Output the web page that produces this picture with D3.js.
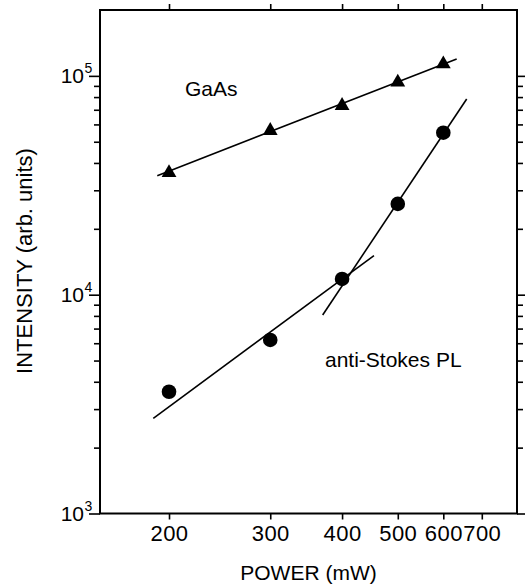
<!DOCTYPE html>
<html>
<head>
<meta charset="utf-8">
<script src="https://cdn.jsdelivr.net/npm/d3@7/dist/d3.min.js"></script>
<style>
  html, body { margin: 0; padding: 0; background: #fff; }
  svg { display: block; }
  text { font-family: "Liberation Sans", Arial, sans-serif; fill: #000; }
</style>
</head>
<body>
<svg id="chart" width="525" height="588"></svg>
<script>
// Excitation power (mW) and measured intensities
const power = [200, 300, 400, 500, 600];
const gaasIntensity = [36100, 56200, 73100, 93500, 113300];
const antiStokesIntensity = [3600, 6210, 11800, 26000, 55000];

// Power-law fit segments: [power, intensity] end points
const gaasFit = [[190.8, 34990], [633, 119500]];
const antiStokesFitLow = [[187.8, 2723], [454.5, 15080]];
const antiStokesFitHigh = [[370.1, 8075], [658.9, 78430]];

// Axis ticks
const xTicks = [200, 300, 400, 500, 600, 700];
const yMajorTicks = [1e3, 1e4, 1e5];
const yMinorTicks = [2e3, 3e3, 4e3, 5e3, 6e3, 7e3, 8e3, 9e3,
                     2e4, 3e4, 4e4, 5e4, 6e4, 7e4, 8e4, 9e4];
const yTickExponents = ["3", "4", "5"];

const svg = d3.select("#chart");
const plotLeft = 100, plotRight = 517, plotTop = 10, plotBottom = 513.5;

const x = d3.scaleLog().domain([151.7, 806]).range([plotLeft, plotRight]);
const y = d3.scaleLog().domain([1000, 200000]).range([plotBottom, plotTop]);

function styleAxis(g) {
  g.select(".domain").remove();
  g.selectAll(".tick line").attr("stroke", "#000").attr("stroke-width", 1.6);
}

// Bottom axis with labels
svg.append("g")
  .attr("transform", `translate(0,${plotBottom})`)
  .call(d3.axisBottom(x).tickValues(xTicks).tickSize(6).tickPadding(6)
        .tickFormat(d3.format("d")))
  .call(styleAxis)
  .call(g => g.selectAll(".tick text")
    .attr("font-family", null).attr("font-size", null)
    .style("font-size", "22px").style("letter-spacing", "0.4px")
    .attr("fill", "#000"));

// Top axis, ticks only
svg.append("g")
  .attr("transform", `translate(0,${plotTop})`)
  .call(d3.axisTop(x).tickValues(xTicks).tickSize(6).tickFormat(""))
  .call(styleAxis);

// Left axis: major and minor ticks
svg.append("g")
  .attr("transform", `translate(${plotLeft},0)`)
  .call(d3.axisLeft(y).tickValues(yMajorTicks).tickSize(11).tickFormat(""))
  .call(styleAxis);
svg.append("g")
  .attr("transform", `translate(${plotLeft},0)`)
  .call(d3.axisLeft(y).tickValues(yMinorTicks).tickSize(6).tickFormat(""))
  .call(styleAxis);

// Right axis: major and minor ticks
svg.append("g")
  .attr("transform", `translate(${plotRight},0)`)
  .call(d3.axisRight(y).tickValues(yMajorTicks).tickSize(8).tickFormat(""))
  .call(styleAxis);
svg.append("g")
  .attr("transform", `translate(${plotRight},0)`)
  .call(d3.axisRight(y).tickValues(yMinorTicks).tickSize(6).tickFormat(""))
  .call(styleAxis);

// Decade labels as 10 with superscript exponent
const yLabels = svg.append("g");
yMajorTicks.forEach((v, i) => {
  yLabels.append("text")
    .attr("x", 84).attr("y", y(v) + 7)
    .attr("text-anchor", "end")
    .style("font-size", "21px")
    .text("10");
  yLabels.append("text")
    .attr("x", 84.5).attr("y", y(v) - 3)
    .style("font-size", "14px")
    .text(yTickExponents[i]);
});

// Plot frame
svg.append("rect")
  .attr("x", plotLeft).attr("y", plotTop)
  .attr("width", plotRight - plotLeft).attr("height", plotBottom - plotTop)
  .attr("fill", "none").attr("stroke", "#000").attr("stroke-width", 2);

// Fit lines
const line = d3.line().x(d => x(d[0])).y(d => y(d[1]));
[gaasFit, antiStokesFitLow, antiStokesFitHigh].forEach(seg => {
  svg.append("path")
    .attr("d", line(seg))
    .attr("fill", "none").attr("stroke", "#000").attr("stroke-width", 1.6);
});

// GaAs points (triangles)
svg.append("g").selectAll("path")
  .data(power.map((p, i) => [p, gaasIntensity[i]]))
  .join("path")
  .attr("transform", d => `translate(${x(d[0])},${y(d[1])})`)
  .attr("d", d3.symbol().type(d3.symbolTriangle).size(95))
  .attr("fill", "#000");

// Anti-Stokes PL points (circles)
svg.append("g").selectAll("circle")
  .data(power.map((p, i) => [p, antiStokesIntensity[i]]))
  .join("circle")
  .attr("cx", d => x(d[0])).attr("cy", d => y(d[1]))
  .attr("r", 7.3)
  .attr("fill", "#000");

// Series annotations
svg.append("text").attr("x", 185).attr("y", 96)
  .style("font-size", "21px").text("GaAs");
svg.append("text").attr("x", 325).attr("y", 367)
  .style("font-size", "21px").text("anti-Stokes PL");

// Axis titles
svg.append("text")
  .attr("x", (plotLeft + plotRight) / 2).attr("y", 580)
  .attr("text-anchor", "middle")
  .style("font-size", "21px")
  .text("POWER (mW)");
svg.append("text")
  .attr("transform", `translate(32,261) rotate(-90)`)
  .attr("text-anchor", "middle")
  .style("font-size", "22px")
  .text("INTENSITY (arb. units)");
</script>
</body>
</html>
